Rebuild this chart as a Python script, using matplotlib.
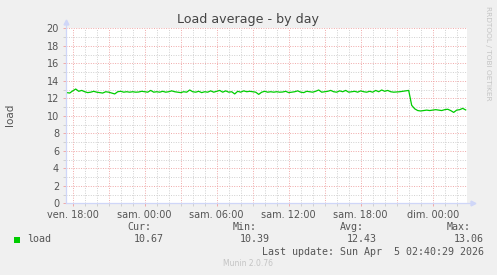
import numpy as np
from matplotlib import pyplot as plt

# hours since "ven. 18:00", one sample every 15 minutes
t_start = -0.5
t_step = 0.25
load = [
    12.65, 12.6,
    12.85, 13.06, 12.8, 12.9,
    12.75, 12.65, 12.7, 12.8,
    12.7, 12.65, 12.6, 12.75,
    12.7, 12.6, 12.5, 12.75,
    12.8, 12.7, 12.75, 12.7,
    12.75, 12.7, 12.72, 12.8,
    12.75, 12.7, 12.9, 12.7,
    12.75, 12.7, 12.8, 12.7,
    12.75, 12.85, 12.75, 12.7,
    12.65, 12.75, 12.7, 12.95,
    12.75, 12.7, 12.8, 12.65,
    12.75, 12.7, 12.85, 12.7,
    12.8, 12.9, 12.7, 12.85,
    12.7, 12.75, 12.5, 12.8,
    12.7, 12.85, 12.75, 12.8,
    12.75, 12.7, 12.45, 12.7,
    12.8, 12.7, 12.75, 12.7,
    12.75, 12.7, 12.72, 12.8,
    12.65, 12.7, 12.75, 12.85,
    12.7, 12.65, 12.8, 12.75,
    12.7, 12.8, 12.95, 12.7,
    12.75, 12.8, 12.9, 12.75,
    12.7, 12.85, 12.75, 12.9,
    12.7, 12.75, 12.8, 12.7,
    12.85, 12.75, 12.7, 12.8,
    12.7, 12.9, 12.75, 12.95,
    12.8, 12.9, 12.75, 12.7,
    12.72, 12.75, 12.8, 12.85,
    12.9, 11.2, 10.8, 10.6,
    10.55, 10.6, 10.65, 10.6,
    10.65, 10.7, 10.65, 10.6,
    10.7, 10.75, 10.6, 10.39,
    10.65, 10.7, 10.85, 10.67,
]
tick_hours = [0, 6, 12, 18, 24, 30]
tick_labels = ['ven. 18:00', 'sam. 00:00', 'sam. 06:00',
               'sam. 12:00', 'sam. 18:00', 'dim. 00:00']
stats_names = ['Cur:', 'Min:', 'Avg:', 'Max:']
stats_values = ['10.67', '10.39', '12.43', '13.06']
last_update = 'Last update: Sun Apr  5 02:40:29 2026'

W, H = 497, 275
BG = '#f0f0f0'
AXIS = '#cfd6f8'
MINOR = '#d0d0d0'
MAJOR = '#f0a8a8'
TXT = '#555555'


def px(x, y):
    return x / W, 1 - y / H


fig = plt.figure(figsize=(W / 100, H / 100), dpi=100, facecolor=BG)
left, right, top, bottom = 66, 467, 28.3, 203.3
ax = fig.add_axes([left / W, 1 - bottom / H, (right - left) / W, (bottom - top) / H])
ax.set_facecolor('white')

t = t_start + t_step * np.arange(len(load))
ax.set_xlim(-0.56, 32.86)
ax.set_ylim(0, 20)

# grid
dash = (0, (1, 1.5))
for h in range(0, 33):
    c = MAJOR if h % 3 == 0 else MINOR
    ax.axvline(h, color=c, lw=0.7, ls=dash, zorder=1)
for v in range(1, 21):
    c = MAJOR if v % 2 == 0 else MINOR
    ax.axhline(v, color=c, lw=0.7, ls=dash, zorder=1)

ax.plot(t, load, color='#00cc00', lw=0.9, zorder=3)

for s in ax.spines.values():
    s.set_visible(False)

# axis lines with arrows
ax.plot([0, 1.012], [0, 0], transform=ax.transAxes, color=AXIS, lw=0.9, clip_on=False, zorder=4)
ax.plot([0, 0], [0, 1.03], transform=ax.transAxes, color=AXIS, lw=0.9, clip_on=False, zorder=4)
ax.plot([1.015], [0], marker='>', ms=3.5, color=AXIS, transform=ax.transAxes, clip_on=False)
ax.plot([0], [1.035], marker='^', ms=3.5, color=AXIS, transform=ax.transAxes, clip_on=False)

ax.set_yticks(range(0, 21, 2))
ax.set_yticks(range(0, 21), minor=True)
ax.set_xticks(tick_hours)
ax.set_xticklabels(tick_labels)
ax.set_xticks([h for h in range(0, 33) if h not in tick_hours], minor=True)
ax.tick_params(which='major', length=2, width=0.7, color=MAJOR, labelsize=7,
               labelcolor=TXT, pad=3)
ax.tick_params(which='minor', length=2, width=0.7, color=MINOR)

fig.text(*px(248, 19), 'Load average - by day', ha='center', va='center',
         fontsize=9.1, color='#444444')
fig.text(*px(10, 115), 'load', rotation=90, ha='center', va='center',
         fontsize=7.5, color=TXT)
fig.text(*px(488, 53.5), 'RRDTOOL / TOBI OETIKER', rotation=-90, ha='center',
         va='center', fontsize=5.3, color='#c4c4c4')

# legend
mono = dict(family='DejaVu Sans Mono', fontsize=7.2, color=TXT)
fig.patches.append(plt.Rectangle(px(14, 243), 6 / W, 6 / H, transform=fig.transFigure,
                                 facecolor='#00cc00', edgecolor='none'))
fig.text(*px(27, 239.5), 'load', ha='left', va='center', **mono)
name_right = [151, 257, 364, 471]
value_right = [164, 270, 377, 484]
for nm, nx in zip(stats_names, name_right):
    fig.text(*px(nx, 227.5), nm, ha='right', va='center', **mono)
for val, vx in zip(stats_values, value_right):
    fig.text(*px(vx, 239.5), val, ha='right', va='center', **mono)
fig.text(*px(484, 251.7), last_update, ha='right', va='center', **mono)
fig.text(*px(248, 263.5), 'Munin 2.0.76', ha='center', va='center',
         fontsize=5.5, color='#c4c4c4')

fig.savefig('out.png', dpi=100, facecolor=BG)
